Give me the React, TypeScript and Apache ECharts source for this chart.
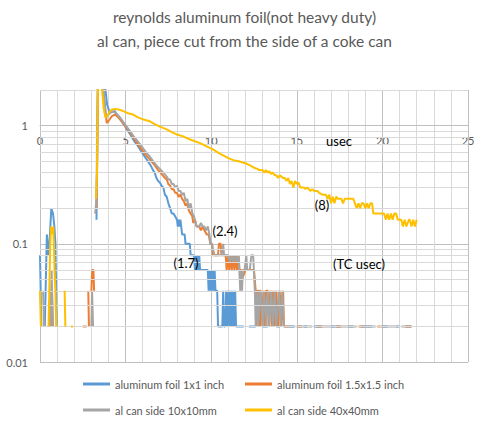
import React, { useEffect, useRef } from "react";
import * as echarts from "echarts";

type Pt = [number, number | null];

const TITLE_LINES = ["reynolds aluminum foil(not heavy duty)", "al can, piece cut from the side of a coke can"];
const SERIES_NAMES = ["aluminum foil 1x1 inch", "aluminum foil 1.5x1.5 inch", "al can side 10x10mm", "al can side 40x40mm"];
const SERIES_COLORS = ["#5B9BD5", "#ED7D31", "#A5A5A5", "#FFC000"];

const X_MIN = 0;
const X_MAX = 25;
const X_INTERVAL = 5;
const Y_MIN = 0.01;
const Y_MAX = 2;
const Y_CROSS = 1;
const Y_TICK_LABELS: Record<string, string> = { "-2": "0.01", "-1": "0.1", "0": "1" };
const Y_MINOR_LINES = [0.02, 0.03, 0.04, 0.05, 0.06, 0.07, 0.08, 0.09, 0.2, 0.3, 0.4, 0.5, 0.6, 0.7, 0.8, 0.9, 2];

const foil1x1: Pt[] = [
  [0, 0.08], [0.08, 0.02], [0.12, null],
  [0.28, 0.02], [0.4, 0.12], [0.48, 0.08], [0.58, 0.12], [0.66, 0.2], [0.76, 0.18], [0.84, 0.14], [0.9, 0.1], [0.98, 0.02], [1.02, null],
  [3.3, 0.16], [3.4, 2.6], [3.5, 7], [3.62, 5], [3.78, 2.3], [3.92, 1.5], [4.08, 1.28], [4.2, 1.3], [4.35, 1.33], [4.5, 1.24],
  [4.7, 1.12], [4.9, 1.02], [5.1, 0.92], [5.3, 0.83], [5.5, 0.74], [5.7, 0.68], [5.9, 0.61], [6.1, 0.55], [6.3, 0.5], [6.5, 0.45],
  [6.6, 0.42], [6.7, 0.4], [6.8, 0.36], [6.9, 0.34], [7.0, 0.33], [7.1, 0.31], [7.2, 0.3], [7.3, 0.26], [7.4, 0.25], [7.5, 0.22],
  [7.6, 0.2], [7.7, 0.18], [7.8, 0.18], [7.9, 0.17], [8.0, 0.16], [8.05, 0.14], [8.1, 0.16], [8.15, 0.14], [8.2, 0.16], [8.25, 0.14],
  [8.3, 0.12], [8.45, 0.12], [8.5, 0.1], [8.75, 0.1], [8.8, 0.08], [9.0, 0.08], [9.05, 0.06], [9.1, 0.08], [9.15, 0.06], [9.2, 0.08],
  [9.25, 0.06], [9.3, 0.08], [9.35, 0.06], [9.8, 0.06], [9.85, 0.04], [9.9, 0.06], [9.95, 0.04], [10.0, 0.06], [10.05, 0.04],
  [10.1, 0.06], [10.15, 0.04], [10.2, 0.06], [10.25, 0.04], [10.35, 0.04], [10.4, 0.02], [10.65, 0.02], [10.7, 0.04], [10.75, 0.02],
  [10.82, 0.02], [10.87, 0.04], [10.92, 0.02], [11.0, 0.04], [11.05, 0.02], [11.1, 0.04], [11.15, 0.02], [11.2, 0.04], [11.25, 0.02],
  [11.3, 0.04], [11.35, 0.02], [11.4, 0.04], [11.45, 0.02], [11.9, 0.02], [11.95, null],
  [12.2, 0.02], [12.6, 0.02], [12.65, null], [13.0, 0.02], [13.3, 0.02], [13.35, null], [13.8, 0.02], [14.0, 0.02], [14.05, null],
  [14.5, 0.02], [14.9, 0.02], [14.95, null], [15.4, 0.02], [15.6, 0.02], [15.65, null], [16.0, 0.02], [16.4, 0.02], [16.45, null],
  [17.0, 0.02], [17.5, 0.02], [17.55, null], [18.0, 0.02], [18.3, 0.02], [18.35, null], [18.8, 0.02], [19.4, 0.02], [19.45, null],
  [20.0, 0.02], [20.3, 0.02], [20.35, null], [20.8, 0.02], [21.0, 0.02], [21.05, null], [21.4, 0.02], [21.7, 0.02],
];

const foil15: Pt[] = [
  [0.55, 0.02], [0.6, 0.04], [0.65, 0.02], [0.7, 0.04], [0.76, 0.02], [0.8, null],
  [2.5, 0.02], [2.72, 0.02], [2.76, null], [2.82, 0.04], [2.86, 0.02], [2.9, null],
  [3.0, 0.04], [3.05, 0.06], [3.12, 0.06], [3.16, 0.04], [3.2, null],
  [3.3, 0.2], [3.4, 3], [3.5, 6], [3.62, 3.2], [3.76, 1.6], [3.9, 1.05], [4.05, 1.12], [4.2, 1.2], [4.38, 1.24], [4.55, 1.18],
  [4.75, 1.1], [5.0, 0.98], [5.2, 0.9], [5.45, 0.79], [5.7, 0.7], [6.0, 0.61], [6.2, 0.56], [6.4, 0.52], [6.6, 0.48], [6.8, 0.44],
  [6.9, 0.42], [7.1, 0.39], [7.3, 0.36], [7.4, 0.35], [7.5, 0.32], [7.6, 0.31], [7.7, 0.29], [7.8, 0.29], [7.9, 0.27], [8.0, 0.27],
  [8.1, 0.25], [8.2, 0.26], [8.3, 0.24], [8.4, 0.23], [8.5, 0.21], [8.6, 0.22], [8.7, 0.19], [8.8, 0.18], [8.9, 0.17], [8.95, 0.15],
  [9.05, 0.16], [9.15, 0.14], [9.3, 0.14], [9.4, 0.13], [9.5, 0.14], [9.6, 0.13], [9.74, 0.12], [9.85, 0.12], [9.95, 0.1], [10.05, 0.1],
  [10.1, 0.08], [10.4, 0.08], [10.45, 0.1], [10.55, 0.1], [10.6, 0.08], [10.85, 0.08], [10.9, 0.06], [11.0, 0.08], [11.05, 0.06],
  [11.15, 0.08], [11.2, 0.06], [11.3, 0.08], [11.35, 0.06], [11.45, 0.08], [11.5, 0.06], [11.6, 0.08], [11.65, 0.06], [11.75, 0.06],
  [11.8, 0.05], [12.0, 0.06], [12.5, 0.06], [12.6, 0.04], [12.65, 0.02], [12.7, 0.04], [12.8, 0.04], [12.85, 0.02], [12.9, 0.04],
  [13.0, 0.02], [13.05, 0.04], [13.15, 0.02], [13.2, 0.04], [13.3, 0.04], [13.35, 0.02], [13.45, 0.04], [13.55, 0.02], [13.6, 0.04],
  [13.7, 0.02], [13.8, 0.04], [13.9, 0.02], [14.0, 0.04], [14.1, 0.02], [14.2, 0.04], [14.25, 0.02], [14.5, 0.02], [14.55, null],
  [15.0, 0.02], [15.3, 0.02], [15.35, null], [16.2, 0.02], [16.5, 0.02], [16.55, null], [17.3, 0.02], [17.6, 0.02], [17.65, null],
  [18.6, 0.02], [18.9, 0.02], [18.95, null], [19.7, 0.02], [19.9, 0.02], [19.95, null], [21.3, 0.02], [21.7, 0.02], [21.75, null],
];

const can10: Pt[] = [
  [0.18, 0.04], [0.24, 0.02], [0.28, null], [0.6, 0.02], [0.68, 0.06], [0.74, 0.02], [0.8, null],
  [3.0, 0.02], [3.04, 0.04], [3.1, 0.02], [3.14, null],
  [3.22, 0.18], [3.3, 0.24], [3.38, 4], [3.5, 8], [3.62, 4], [3.74, 1.8], [3.86, 1.16], [4.0, 1.24], [4.15, 1.3], [4.28, 1.32],
  [4.45, 1.27], [4.7, 1.16], [4.95, 1.03], [5.2, 0.92], [5.45, 0.82], [5.7, 0.74], [6.0, 0.65], [6.2, 0.59], [6.4, 0.55], [6.6, 0.5],
  [6.8, 0.46], [7.0, 0.43], [7.2, 0.4], [7.4, 0.37], [7.5, 0.35], [7.6, 0.35], [7.7, 0.32], [7.8, 0.32], [7.9, 0.3], [8.0, 0.31],
  [8.1, 0.28], [8.2, 0.28], [8.3, 0.26], [8.4, 0.27], [8.5, 0.23], [8.6, 0.24], [8.7, 0.2], [8.8, 0.22], [8.9, 0.18], [9.0, 0.17],
  [9.05, 0.16], [9.15, 0.14], [9.3, 0.14], [9.4, 0.15], [9.5, 0.14], [9.6, 0.14], [9.7, 0.13], [9.8, 0.14], [9.9, 0.12], [9.95, 0.1],
  [10.05, 0.1], [10.1, 0.09], [10.2, 0.08], [10.6, 0.08], [10.7, 0.1], [10.75, 0.08], [11.0, 0.08], [11.1, 0.07], [11.2, 0.08],
  [11.3, 0.07], [11.4, 0.08], [11.5, 0.07], [11.6, 0.08], [11.7, 0.04], [11.75, 0.06], [11.8, 0.04], [11.85, 0.06], [11.95, 0.06],
  [12.05, 0.08], [12.1, 0.06], [12.25, 0.06], [12.35, 0.08], [12.45, 0.08], [12.55, 0.04], [12.6, 0.02], [12.7, 0.04], [12.75, 0.02],
  [12.85, 0.04], [12.9, 0.04], [13.0, 0.02], [13.1, 0.04], [13.2, 0.02], [13.3, 0.04], [13.4, 0.02], [13.5, 0.04], [13.6, 0.02],
  [13.7, 0.04], [13.8, 0.02], [13.95, 0.04], [14.05, 0.02], [14.15, 0.04], [14.25, 0.02],
  [14.8, 0.02], [14.85, null], [15.0, 0.02], [15.9, 0.02], [15.95, null], [16.1, 0.02], [17.2, 0.02], [17.25, null], [17.4, 0.02],
  [18.5, 0.02], [18.55, null], [18.7, 0.02], [19.6, 0.02], [19.65, null], [19.9, 0.02], [20.9, 0.02], [20.95, null], [21.1, 0.02], [21.5, 0.02],
];

const can40: Pt[] = [
  [0, 0.04], [0.05, 0.02], [0.1, null],
  [0.5, 0.02], [0.6, 0.1], [0.65, 0.14], [0.72, 0.12], [0.78, 0.14], [0.85, 0.06], [0.9, 0.04], [0.95, 0.02], [1.0, null],
  [1.44, 0.04], [1.48, 0.02], [1.52, null], [1.82, 0.02], [1.92, 0.02], [1.96, null],
  [3.27, 0.24], [3.33, 0.4], [3.42, 6], [3.5, 5], [3.6, 2.2], [3.72, 1.4], [3.82, 1.17], [3.92, 1.2], [4.05, 1.3], [4.2, 1.37],
  [4.4, 1.38], [4.65, 1.36], [4.9, 1.32], [5.15, 1.27], [5.43, 1.24], [5.7, 1.18], [6.0, 1.13], [6.4, 1.09], [6.7, 1.03], [7.0, 0.98],
  [7.4, 0.93], [7.7, 0.88], [8.0, 0.84], [8.36, 0.81], [8.7, 0.77], [9.0, 0.74], [9.35, 0.71], [9.7, 0.67], [10.1, 0.63], [10.4, 0.59],
  [10.7, 0.56], [11.0, 0.53], [11.3, 0.51], [11.6, 0.5], [11.8, 0.49], [12.0, 0.48], [12.27, 0.46], [12.5, 0.44], [12.7, 0.43],
  [12.8, 0.42], [13.0, 0.42], [13.1, 0.4], [13.2, 0.42], [13.3, 0.4], [13.4, 0.41], [13.5, 0.39], [13.6, 0.4], [13.7, 0.38],
  [13.8, 0.38], [13.9, 0.36], [14.0, 0.38], [14.1, 0.37], [14.2, 0.36], [14.3, 0.36], [14.4, 0.34], [14.5, 0.36], [14.6, 0.32],
  [14.7, 0.34], [14.8, 0.3], [14.9, 0.34], [15.0, 0.32], [15.1, 0.33], [15.2, 0.3], [15.4, 0.3], [15.5, 0.29], [15.6, 0.3],
  [15.8, 0.28], [15.9, 0.29], [16.0, 0.28], [16.2, 0.28], [16.3, 0.27], [16.5, 0.26], [16.7, 0.26], [16.8, 0.24], [16.9, 0.26],
  [17.0, 0.22], [17.1, 0.25], [17.2, 0.22], [17.3, 0.25], [17.4, 0.24], [17.6, 0.24], [17.7, 0.22], [17.8, 0.24], [18.0, 0.24],
  [18.3, 0.24], [18.4, 0.22], [18.5, 0.2], [18.6, 0.22], [18.7, 0.2], [18.8, 0.22], [18.9, 0.22], [19.0, 0.2], [19.1, 0.22],
  [19.2, 0.2], [19.3, 0.22], [19.4, 0.22], [19.47, 0.18], [20.1, 0.18], [20.2, 0.16], [20.3, 0.18], [20.4, 0.16], [20.5, 0.18],
  [20.6, 0.16], [20.7, 0.18], [20.8, 0.18], [20.9, 0.16], [21.1, 0.16], [21.2, 0.14], [21.3, 0.16], [21.4, 0.14], [21.55, 0.16],
  [21.6, 0.16], [21.7, 0.14], [21.8, 0.16], [21.9, 0.14], [22.0, 0.16],
];

const SERIES_DATA: Pt[][] = [foil1x1, foil15, can10, can40];

const ANNOTATIONS: { text: string; x: number; y: number }[] = [
  { text: "usec", x: 339, y: 141 },
  { text: "(2.4)", x: 225, y: 231 },
  { text: "(1.7)", x: 186, y: 263 },
  { text: "(8)", x: 322, y: 205 },
  { text: "(TC usec)", x: 359, y: 264 },
];

const FONT = "Lato, 'Open Sans', sans-serif";
const W = 485;
const H = 425;
const GRID = { left: 40, right: 17, top: 90, bottom: 63 };

export default function App() {
  const ref = useRef<HTMLDivElement>(null);
  useEffect(() => {
    if (!ref.current) return;
    const chart = echarts.init(ref.current, undefined, { renderer: "svg" });
    const gridH = H - GRID.top - GRID.bottom;
    // distance (px) from the top of the grid down to the y value where the x axis crosses
    const crossDrop = (gridH * Math.log10(Y_MAX / Y_CROSS)) / Math.log10(Y_MAX / Y_MIN);
    const legendBase = {
      orient: "vertical",
      top: 377,
      padding: 0,
      icon: "rect",
      itemWidth: 27,
      itemHeight: 3,
      itemGap: 12,
      textStyle: { fontSize: 11, color: "#595959", fontFamily: FONT, lineHeight: 14 },
    };
    const option: any = {
      animation: false,
      textStyle: { fontFamily: FONT },
      grid: { ...GRID, containLabel: false },
      xAxis: {
        type: "value",
        min: X_MIN,
        max: X_MAX,
        interval: X_INTERVAL,
        position: "top",
        offset: -crossDrop,
        axisLine: { show: true, lineStyle: { color: "#BFBFBF" } },
        axisTick: { show: false },
        axisLabel: { inside: true, margin: 9, color: "#595959", fontSize: 11, fontFamily: FONT },
        splitLine: { show: true, lineStyle: { color: "#BFBFBF", width: 1 } },
        minorTick: { show: false, splitNumber: 5 },
        minorSplitLine: { show: true, lineStyle: { color: "#D9D9D9", width: 1 } },
      },
      yAxis: {
        type: "log",
        logBase: 10,
        min: Y_MIN,
        max: Y_MAX,
        axisLine: { show: false },
        axisTick: { show: false },
        axisLabel: {
          margin: 12,
          color: "#595959",
          fontSize: 11,
          fontFamily: FONT,
          formatter: (v: number) => {
            const l = Math.log10(v);
            const r = Math.round(l);
            if (Math.abs(l - r) > 1e-6) return "";
            return Y_TICK_LABELS[String(r)] ?? "";
          },
        },
        splitLine: { show: true, lineStyle: { color: "#BFBFBF", width: 1 } },
      },
      legend: [
        { ...legendBase, left: 83, data: [SERIES_NAMES[0], SERIES_NAMES[2]] },
        { ...legendBase, left: 245, data: [SERIES_NAMES[1], SERIES_NAMES[3]] },
      ],
      graphic: [
        ...TITLE_LINES.map((t, i) => ({
          type: "text",
          x: W / 2 + 2,
          y: 17 + i * 24,
          z: 100,
          silent: true,
          style: { text: t, fill: "#595959", fontSize: 15.5, fontFamily: FONT, align: "center", verticalAlign: "middle" },
        })),
        ...ANNOTATIONS.map((a) => ({
          type: "text",
          x: a.x,
          y: a.y,
          z: 100,
          silent: true,
          style: { text: a.text, fill: "#000", fontSize: 13, fontFamily: FONT, align: "center", verticalAlign: "middle" },
        })),
      ],
      series: [
        {
          type: "line",
          data: [],
          z: -1,
          silent: true,
          markLine: {
            silent: true,
            symbol: ["none", "none"],
            label: { show: false },
            lineStyle: { color: "#D9D9D9", type: "solid", width: 1 },
            data: Y_MINOR_LINES.map((v) => ({ yAxis: v })),
          },
        },
        ...SERIES_DATA.map((d, i) => ({
          name: SERIES_NAMES[i],
          type: "line",
          data: d,
          symbol: "none",
          connectNulls: false,
          clip: true,
          color: SERIES_COLORS[i],
          lineStyle: { color: SERIES_COLORS[i], width: 2 },
          z: 2 + i,
        })),
      ],
    };
    chart.setOption(option);
    return () => chart.dispose();
  }, []);
  return (
    <div
      ref={ref}
      style={{ position: "fixed", left: 0, top: 0, width: W, height: H, background: "#fff" }}
    />
  );
}
